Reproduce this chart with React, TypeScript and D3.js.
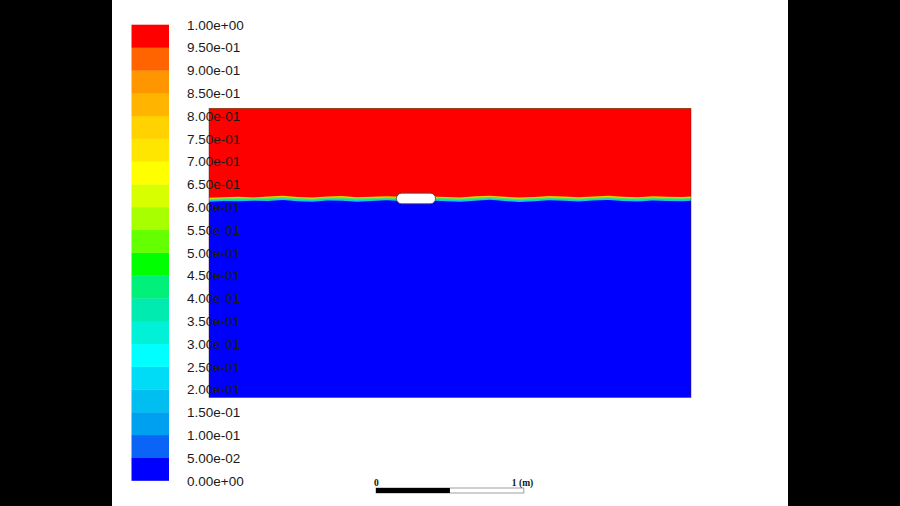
import { useEffect, useRef } from "react";
import * as d3 from "d3";

// contour levels (volume fraction) and band colours, bottom to top
const levels = [
  0, 0.05, 0.1, 0.15, 0.2, 0.25, 0.3, 0.35, 0.4, 0.45, 0.5, 0.55, 0.6, 0.65,
  0.7, 0.75, 0.8, 0.85, 0.9, 0.95, 1.0,
];
const bandColors = [
  "#0000ff", "#0a64f5", "#00a0f0", "#00bef0", "#00dcf5",
  "#00ffff", "#00f0d8", "#00ebb0", "#00f07a", "#00ff00",
  "#64ff00", "#a8ff00", "#d8ff00", "#ffff00", "#ffe600",
  "#ffd200", "#ffb400", "#ff9600", "#ff6400", "#ff0000",
];

// tank size (m)
const tankWidth = 3.26;
const tankHeight = 1.95;

// free surface: upper (fraction 1) and lower (fraction 0) edge of the mixed layer, m
const surfaceX = [
  0, 0.1, 0.2, 0.3, 0.4, 0.5, 0.6, 0.7, 0.8, 0.9, 1.0, 1.1, 1.2, 1.3, 1.4, 1.5,
  1.6, 1.7, 1.8, 1.9, 2.0, 2.1, 2.2, 2.3, 2.4, 2.5, 2.6, 2.7, 2.8, 2.9, 3.0,
  3.1, 3.2, 3.26,
];
const surfaceTop = [
  1.347, 1.352, 1.355, 1.350, 1.357, 1.361, 1.353, 1.349, 1.356, 1.359, 1.352,
  1.354, 1.358, 1.355, 1.351, 1.357, 1.353, 1.350, 1.358, 1.362, 1.354, 1.349,
  1.353, 1.359, 1.356, 1.351, 1.357, 1.361, 1.354, 1.352, 1.358, 1.355, 1.353,
  1.356,
];
const surfaceBottom = [
  1.311, 1.318, 1.314, 1.320, 1.316, 1.323, 1.315, 1.312, 1.321, 1.318, 1.311,
  1.317, 1.322, 1.316, 1.313, 1.320, 1.315, 1.310, 1.318, 1.324, 1.316, 1.309,
  1.315, 1.321, 1.317, 1.312, 1.319, 1.323, 1.316, 1.313, 1.320, 1.317, 1.314,
  1.318,
];
// colours seen inside the mixed layer, from the top down
const layerColors = ["#ff0000", "#f0d200", "#50e650", "#19c8e6"];

// floating body (m)
const bodyX = 1.4;
const bodyY = 1.343;
const bodyW = 0.265;
const bodyH = 0.072;

const scaleTicks = [0, 1];

const fmt = (v: number) => {
  const [m, e] = v.toExponential(2).split("e");
  const sign = e[0];
  const digits = e.slice(1).padStart(2, "0");
  return `${m}e${sign}${digits}`;
};

const App = () => {
  const svgRef = useRef<SVGSVGElement>(null);

  useEffect(() => {
    const svg = d3.select(svgRef.current);
    svg.selectAll("*").remove();

    const W = 900;
    const H = 506;

    svg.append("rect").attr("width", W).attr("height", H).attr("fill", "#fff");
    svg.append("rect").attr("x", 0).attr("y", 0).attr("width", 112).attr("height", H).attr("fill", "#000");
    svg.append("rect").attr("x", 788).attr("y", 0).attr("width", 112).attr("height", H).attr("fill", "#000");

    // tank
    const x = d3.scaleLinear().domain([0, tankWidth]).range([209, 691]);
    const y = d3.scaleLinear().domain([0, tankHeight]).range([397.5, 108.5]);

    const g = svg.append("g");
    g.append("rect")
      .attr("x", x(0))
      .attr("y", y(tankHeight))
      .attr("width", x(tankWidth) - x(0))
      .attr("height", y(0) - y(tankHeight))
      .attr("fill", bandColors[0]);

    const pts = surfaceX.map((sx, i) => ({ x: sx, top: surfaceTop[i], bot: surfaceBottom[i] }));
    const fracs = [0, 0.2, 0.45, 0.75];
    [...layerColors].reverse().forEach((c, k) => {
      const f = fracs[layerColors.length - 1 - k];
      const area = d3
        .area<{ x: number; top: number; bot: number }>()
        .x((d) => x(d.x))
        .y0(y(tankHeight))
        .y1((d) => y(d.top - f * (d.top - d.bot)))
        .curve(d3.curveLinear);
      g.append("path").datum(pts).attr("d", area).attr("fill", c);
    });

    g.append("rect")
      .attr("x", x(0))
      .attr("y", y(tankHeight))
      .attr("width", x(tankWidth) - x(0))
      .attr("height", y(0) - y(tankHeight))
      .attr("fill", "none")
      .attr("stroke", "#5a1010")
      .attr("stroke-opacity", 0.5)
      .attr("stroke-width", 0.8);

    // body
    const bw = x(bodyX + bodyW / 2) - x(bodyX - bodyW / 2);
    const bh = y(bodyY - bodyH / 2) - y(bodyY + bodyH / 2);
    g.append("rect")
      .attr("x", x(bodyX - bodyW / 2))
      .attr("y", y(bodyY + bodyH / 2))
      .attr("width", bw)
      .attr("height", bh)
      .attr("rx", bh / 2)
      .attr("fill", "#fff")
      .attr("stroke", "#444")
      .attr("stroke-width", 0.8);

    // colour bar
    const cy = d3.scaleLinear().domain([0, 1]).range([480.5, 24.7]);
    const bar = svg.append("g");
    bandColors.forEach((c, i) => {
      bar.append("rect")
        .attr("x", 131.5)
        .attr("y", cy(levels[i + 1]))
        .attr("width", 37.5)
        .attr("height", cy(levels[i]) - cy(levels[i + 1]) + 0.3)
        .attr("fill", c);
    });
    bar.selectAll("text.lbl")
      .data(levels)
      .join("text")
      .attr("class", "lbl")
      .attr("x", 187)
      .attr("y", (d) => cy(d) + 5)
      .attr("font-family", "Liberation Sans, Arial, sans-serif")
      .attr("font-size", 13.5)
      .attr("fill", "#1a1a1a")
      .text((d) => fmt(d));

    // length scale
    const m = x(1) - x(0);
    const sx = d3.scaleLinear().domain([0, 1]).range([376, 376 + m]);
    const sb = svg.append("g");
    sb.append("rect")
      .attr("x", sx(0))
      .attr("y", 488)
      .attr("width", sx(1) - sx(0))
      .attr("height", 5)
      .attr("fill", "#fff")
      .attr("stroke", "#888")
      .attr("stroke-width", 0.8);
    sb.append("rect")
      .attr("x", sx(0))
      .attr("y", 488)
      .attr("width", sx(0.5) - sx(0))
      .attr("height", 5)
      .attr("fill", "#000");
    sb.selectAll("text")
      .data(scaleTicks)
      .join("text")
      .attr("x", (d) => (d === 0 ? sx(d) - 2 : sx(d) - 12))
      .attr("y", 486)
      .attr("font-family", "Liberation Serif, Times New Roman, serif")
      .attr("font-weight", "bold")
      .attr("font-size", 9.5)
      .attr("fill", "#111")
      .text((d) => (d === 0 ? "0" : `${d} (m)`));
  }, []);

  return (
    <div style={{ position: "absolute", left: 0, top: 0 }}>
      <svg ref={svgRef} width={900} height={506} style={{ display: "block" }} />
    </div>
  );
};

export default App;
